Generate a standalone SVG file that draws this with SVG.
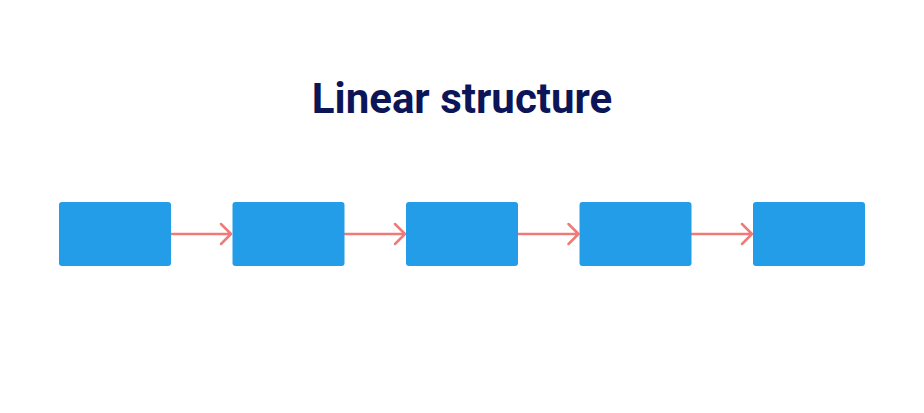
<svg xmlns="http://www.w3.org/2000/svg" width="924" height="413" viewBox="0 0 924 413">
<style>
.node{fill:#239DE8}
.edge{stroke:#EE7B78;stroke-width:2.5;fill:none;stroke-linecap:round;stroke-linejoin:round}
.title{font-family:Roboto,"Liberation Sans",sans-serif;font-weight:700;font-size:42px;fill:#0C1557}
</style>
<rect width="924" height="413" fill="#ffffff"/>
<text class="title" x="462" y="113" text-anchor="middle">Linear structure</text>
<g id="connectors">
<path class="edge" d="M171 234 H231 M221 224 L231 234 L221 244"/>
<path class="edge" d="M344.5 234 H405 M395 224 L405 234 L395 244"/>
<path class="edge" d="M518 234 H578.5 M568.5 224 L578.5 234 L568.5 244"/>
<path class="edge" d="M691.5 234 H752 M742 224 L752 234 L742 244"/>
</g>
<g id="node1"><rect class="node" x="59" y="202" width="112" height="64" rx="3"/></g>
<g id="node2"><rect class="node" x="232.5" y="202" width="112" height="64" rx="3"/></g>
<g id="node3"><rect class="node" x="406" y="202" width="112" height="64" rx="3"/></g>
<g id="node4"><rect class="node" x="579.5" y="202" width="112" height="64" rx="3"/></g>
<g id="node5"><rect class="node" x="753" y="202" width="112" height="64" rx="3"/></g>
</svg>
